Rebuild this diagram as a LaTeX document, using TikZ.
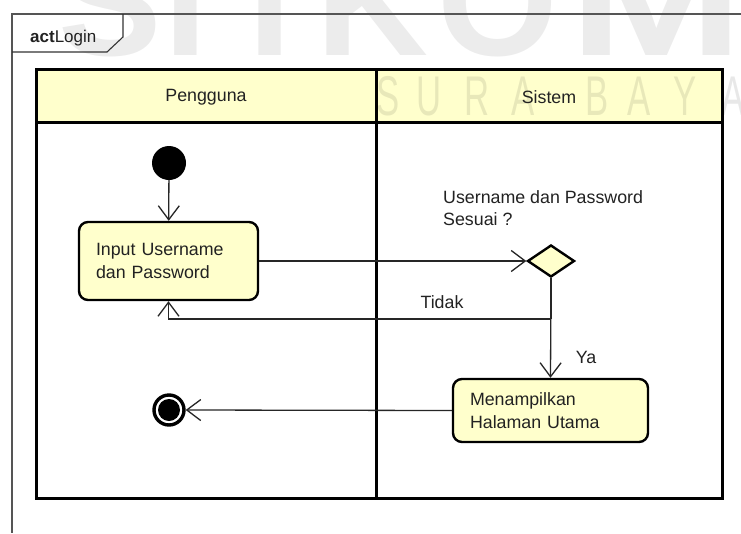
\documentclass[tikz,border=0pt]{standalone}
\usepackage{fontspec}
\setmainfont{Liberation Sans}
\usetikzlibrary{arrows.meta,shapes.geometric}
\definecolor{laneyellow}{HTML}{FFFFCC}
\definecolor{actyellow}{HTML}{FFFFCC}
\definecolor{txt}{HTML}{222222}
\definecolor{framegray}{HTML}{555555}
\tikzset{
  txtfont/.style={font=\fontsize{17.8}{22.5}\selectfont, text=txt},
  wmbig/.style={font=\fontsize{155}{155}\selectfont\bfseries, text=black, text opacity=0.075, inner sep=0pt, anchor=base},
  wmsmall/.style={font=\fontsize{56}{56}\selectfont, text=black, text opacity=0.09, inner sep=0pt, anchor=base, xscale=0.62},
  lanehead/.style={txtfont, inner sep=0pt},
  actbox/.style={draw=black, line width=2.4pt, fill=actyellow, rounded corners=9pt, txtfont, align=left, inner sep=0pt},
  decision/.style={diamond, draw=black, line width=2.4pt, fill=actyellow, inner sep=0pt, minimum width=47pt, minimum height=32pt},
  initnode/.style={circle, fill=black, inner sep=0pt, minimum size=34pt},
  finalnode/.style={circle, draw=black, line width=3.4pt, fill=white, inner sep=0pt, minimum size=30pt,
    path picture={\fill[black] (path picture bounding box.center) circle (11pt);}},
  conn/.style={draw=black!85, line width=1.3pt, -{Straight Barb[length=14pt,width=21pt,line width=1.3pt]}},
  plainconn/.style={draw=black!85, line width=1.3pt},
  lbl/.style={txtfont, inner sep=0pt, align=left},
}
\begin{document}
\begin{tikzpicture}[x=1pt,y=-1pt]
\useasboundingbox (0,0) rectangle (741,533);
\fill[white] (0,0) rectangle (741,533);
% lane header background
\fill[laneyellow] (36,69) rectangle (722,122);
% watermark
\begin{scope}
\clip (0,0) rectangle (741,533);
\foreach \l/\x in {S/110,T/186,I/270,K/372,O/498}
  \node[wmbig] at (\x,55) {\l};
\node[wmbig, xscale=1.35] at (657,55) {M};
\foreach \l/\x in {S/388,U/429,R/477,A/523,B/597,A/639,Y/685,A/733}
  \node[wmsmall] at (\x,115) {\l};
\end{scope}
% outer frame and tab
\draw[framegray, line width=1.1pt] (741,14) -- (12,14) -- (12,533);
\draw[black!80, line width=1.1pt] (12,52) -- (107,52) -- (123,37) -- (123,14);
\node[anchor=base west, inner sep=0pt, font=\fontsize{17}{20}\selectfont, text=txt] (title) at (30,42) {\textbf{act}Login};
% swimlanes
\draw[black, line width=3pt] (36,69) rectangle (722,498);
\draw[black, line width=3pt] (36,122) -- (722,122);
\draw[black, line width=3pt] (376,69) -- (376,498);
\node[lanehead] (pengguna) at (206,97) {Pengguna};
\node[lanehead] (sistem) at (549,97) {Sistem};
% nodes
\node[initnode] (start) at (169,163) {};
\node[actbox, minimum width=179pt, minimum height=78pt, text width=145pt] (input) at (168.5,261) {Input Username\\dan Password};
\node[decision] (dec) at (551,261) {};
\node[lbl, anchor=north west] (question) at (443,190) {Username dan Password\\Sesuai ?};
\node[actbox, minimum width=195pt, minimum height=63pt, text width=161pt] (menu) at (550.5,410.5) {Menampilkan\\Halaman Utama};
\node[finalnode] (end) at (169,410) {};
\coordinate (turn) at (551,319);
% connectors
\draw[conn] (start) -- (input);
\draw[conn] (input.east) -- (dec.west);
\draw[plainconn] (dec.south) -- (turn);
\draw[conn] (turn) -| (input.south);
\draw[conn] (dec.south) -- (menu.north);
\draw[conn] (menu.west) -- (end.east);
\node[lbl] (tidak) at (442,302) {Tidak};
\node[lbl] (ya) at (586,357) {Ya};
\end{tikzpicture}
\end{document}
